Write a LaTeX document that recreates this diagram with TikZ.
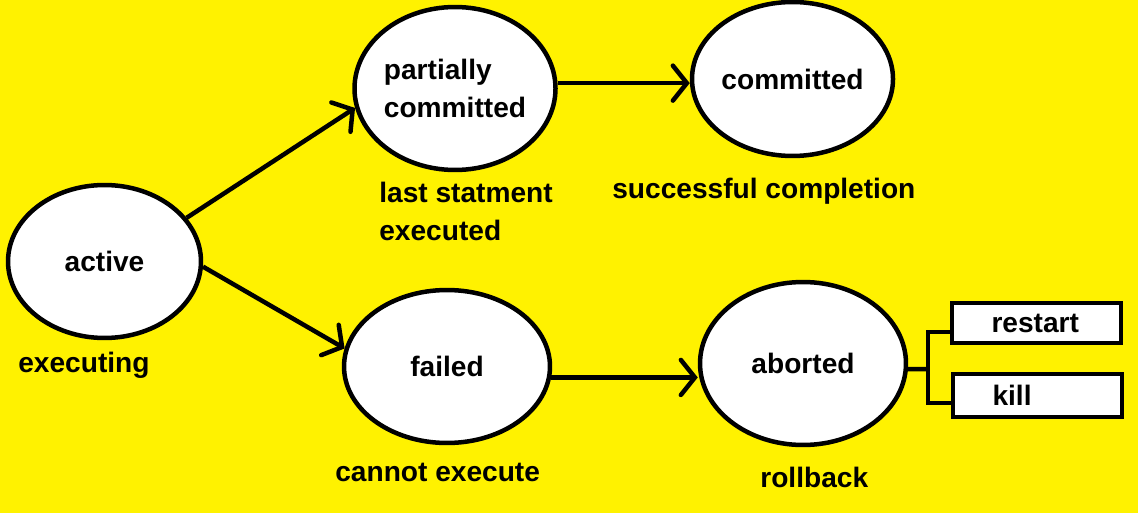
\documentclass[tikz,border=0pt]{standalone}
\usepackage{fontspec}
\setmainfont{Liberation Sans}
\definecolor{paint_yellow}{RGB}{255, 242, 0}
\usepackage{tikz}
\usetikzlibrary{arrows.meta, shapes.geometric, calc}

\begin{document}
\begin{tikzpicture}[x=0.02cm, y=-0.02cm,
      font=\fontsize{16}{21.5}\selectfont\bfseries,
      state/.style={draw, ellipse, line width=0.09cm, fill=white,
                    inner sep=0pt, align=center},
      lbl/.style={inner sep=0pt, align=left},
      opt/.style={draw, line width=0.09cm, fill=white, align=left,
                  text width=1.8cm, inner xsep=0.79cm, minimum height=0.8cm},
      arr/.style={-{Straight Barb[length=0.28cm, width=0.7cm, line cap=round]},
                  line width=0.09cm},
      wire/.style={line width=0.09cm}]
      \fill[paint_yellow] (0,0) rectangle (1138,513);
      \useasboundingbox (0,0) rectangle (1138,513);
      \node[state, minimum width=3.86cm, minimum height=3.06cm] (active) at (104.5,261.5) {active};
      \node[state, minimum width=3.88cm, minimum height=3.26cm, align=left] (pc) at (455,88.5) {partially\\committed};
      \node[state, minimum width=3.90cm, minimum height=3.08cm] (com) at (792.5,79) {committed};
      \node[state, minimum width=4.12cm, minimum height=3.06cm] (failed) at (447,366.5) {failed};
      \node[state, minimum width=4.12cm, minimum height=3.26cm] (ab) at (803,363.5) {aborted};
      \node[opt] (restart) at (1036.5,323) {restart};
      \node[opt, minimum height=0.86cm] (kill) at (1037.5,395.5) {kill};
      \coordinate (fork) at (928,369);
      \draw[arr] (active.28) -- (pc.191);
      \draw[arr] (active.-3) -- (failed.170);
      \draw[arr] (pc.3) -- (pc.3 -| com.west);
      \draw[arr] (failed.-6) -- (failed.-6 -| ab.west);
      \draw[wire] (ab.-3) -- (fork);
      \draw[wire] (restart.west |- 0,332) -| (fork) |- (kill.west |- 0,403);
      \node[lbl, anchor=base west] (exec) at (18,372) {executing};
      \node[lbl, anchor=north west] (last) at (379,182) {last statment\\executed};
      \node[lbl, anchor=base west] (succ) at (612,198) {successful completion};
      \node[lbl, anchor=base west] (cant) at (335,481) {cannot execute};
      \node[lbl, anchor=base west] (roll) at (760,487) {rollback};
    \end{tikzpicture}
\end{document}
